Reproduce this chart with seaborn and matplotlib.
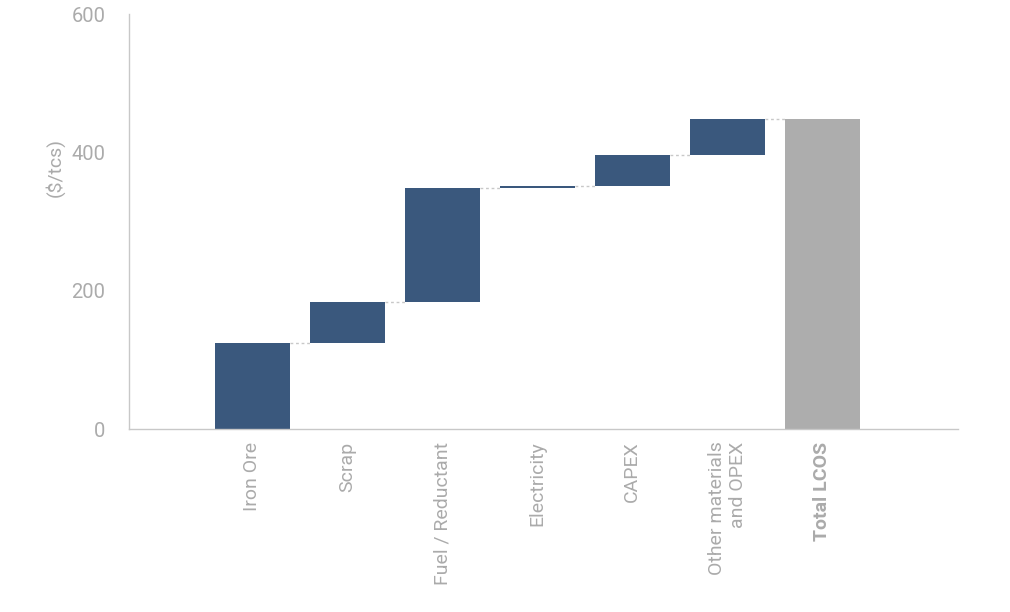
import numpy as np
import pandas as pd
import matplotlib
matplotlib.use("Agg")
import matplotlib.pyplot as plt
import seaborn as sns

# ============================
# DADOS
# ============================
categories = ["Iron Ore", "Scrap", "Fuel / Reductant", "Electricity", "CAPEX",
              "Other materials\nand OPEX", "Total LCOS"]
increments = [125, 59, 164, 3, 45, 53]
y_ticks = [0, 200, 400, 600]

tops = np.cumsum(increments)
bases = np.concatenate([[0], tops[:-1]])
total = tops[-1]

df = pd.DataFrame({
    "categoria": categories,
    "altura": list(increments) + [total],
    "base": list(bases) + [0],
})

# ============================
# ESTILO
# ============================
sns.set_style("white")
plt.rcParams["font.family"] = ["Roboto", "DejaVu Sans"]
navy = "#3A587D"
cinza_total = "#ADADAD"
cinza_txt = "#ABABAB"
cinza_eixo = "#C8C8C8"

fig = plt.figure(figsize=(10.1, 6.12), dpi=100)
ax = fig.add_axes([0.1277, 0.299, 0.8208, 0.678])

width = 0.79
sns.barplot(data=df, x="categoria", y="altura", bottom=df["base"].values,
            color=navy, width=width, saturation=1, ax=ax)
ax.patches[-1].set_facecolor(cinza_total)
for p in ax.patches:
    p.set_edgecolor("none")

# linhas de ligação pontilhadas
for i, top in enumerate(tops):
    ax.plot([i + width / 2, i + 1 - width / 2], [top, top],
            linestyle=(0, (2, 2)), color=cinza_eixo, linewidth=1)

ax.set_xlim(-1.3, 7.43)
ax.set_ylim(0, 600)
ax.set_yticks(y_ticks)
ax.tick_params(axis="y", length=0, pad=17, labelsize=14.5, labelcolor=cinza_txt)
ax.tick_params(axis="x", length=0, pad=9, labelsize=14, labelcolor=cinza_txt)
for lab in ax.get_xticklabels():
    lab.set_rotation(90)
    lab.set_va("top")
    lab.set_ha("center")
    lab.set_multialignment("right")
ax.get_xticklabels()[-1].set_fontweight("bold")

ax.set_xlabel("")
ax.set_ylabel("($/tcs)", fontsize=14, color=cinza_txt)
ax.yaxis.set_label_coords(-0.078, 0.63)

sns.despine(ax=ax, top=True, right=True)
for s in ["left", "bottom"]:
    ax.spines[s].set_color(cinza_eixo)
    ax.spines[s].set_linewidth(1)

fig.savefig("out.png", dpi=100)
